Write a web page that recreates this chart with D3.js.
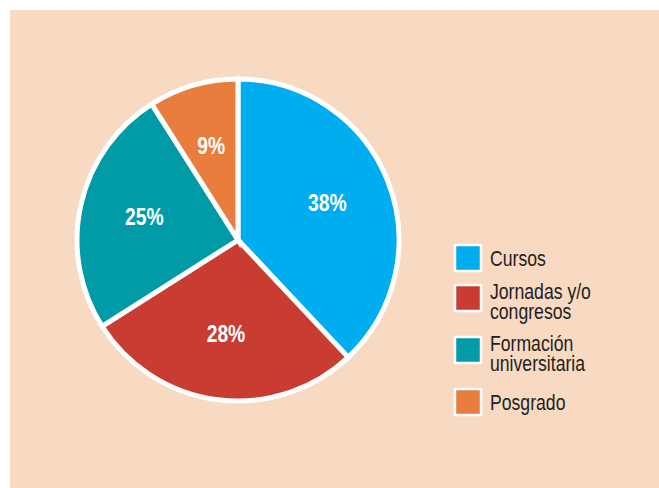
<!DOCTYPE html>
<html>
<head>
<meta charset="utf-8">
<script src="https://cdn.jsdelivr.net/npm/d3@7"></script>
<style>
  body { margin: 0; background: #fff; }
</style>
</head>
<body>
<script>
const WIDTH = 659;
const HEIGHT = 488;

// data
const categories = ["Cursos", "Jornadas y/o congresos", "Formación universitaria", "Posgrado"];
const legendLines = [["Cursos"], ["Jornadas y/o", "congresos"], ["Formación", "universitaria"], ["Posgrado"]];
const values = [38, 28, 25, 9];
const colors = ["#00adee", "#c83c32", "#009ba6", "#e87d3e"];

const FONT = "'Liberation Sans', Arial, sans-serif";

function main(){
    let svg = d3.select("body")
        .append("svg")
        .attr("width", WIDTH)
        .attr("height", HEIGHT);

    svg.append("rect")
        .attr("x", 10)
        .attr("y", 10)
        .attr("width", WIDTH - 10)
        .attr("height", HEIGHT - 10)
        .style("fill", "#f8d9c2");

    let cx = 238, cy = 240, r = 161;
    let g = svg.append("g").attr("transform", `translate(${cx},${cy})`);

    let pie = d3.pie().sort(null).value(d => d.value);
    let arcs = pie(categories.map((c, i) => ({name: c, value: values[i]})));
    let arc = d3.arc().innerRadius(0).outerRadius(r);
    let labelArc = d3.arc().innerRadius(96).outerRadius(96);

    g.selectAll(".slice")
        .data(arcs)
        .enter()
        .append("path")
        .attr("class", "slice")
        .attr("d", arc)
        .style("fill", (d, i) => colors[i])
        .style("stroke", "#fff")
        .style("stroke-width", 5)
        .style("stroke-linejoin", "miter");

    // condensed look: Liberation Sans squeezed horizontally
    g.selectAll(".lbl")
        .data(arcs)
        .enter()
        .append("text")
        .attr("class", "lbl")
        .attr("transform", d => {
            let c = labelArc.centroid(d);
            return `translate(${c[0]},${c[1] - 2}) scale(0.84,1)`;
        })
        .attr("text-anchor", "middle")
        .attr("dy", "0.36em")
        .style("font-family", FONT)
        .style("font-weight", "bold")
        .style("font-size", "23px")
        .style("fill", "#fff")
        .text(d => d.value + "%");

    // legend
    let tops = [];
    let y = 244;
    legendLines.forEach(lines => {
        tops.push(y);
        y += 28 + 12 * lines.length;
    });

    let leg = svg.selectAll(".leg")
        .data(legendLines)
        .enter()
        .append("g")
        .attr("class", "leg")
        .attr("transform", (d, i) => `translate(454,${tops[i]})`);

    leg.append("rect")
        .attr("x", 1)
        .attr("y", 1)
        .attr("width", 26)
        .attr("height", 26)
        .style("fill", (d, i) => colors[i])
        .style("stroke", "#fff")
        .style("stroke-width", 2.5);

    leg.append("text")
        .attr("transform", d => `translate(36,${22 - (d.length - 1) * 7}) scale(0.82,1)`)
        .style("font-family", FONT)
        .style("font-size", "21.5px")
        .style("fill", "#231f20")
        .selectAll("tspan")
        .data(d => d)
        .enter()
        .append("tspan")
        .attr("x", 0)
        .attr("dy", (d, i) => i === 0 ? 0 : 19.5)
        .text(d => d);
}

window.addEventListener("load", main);
</script>
</body>
</html>
